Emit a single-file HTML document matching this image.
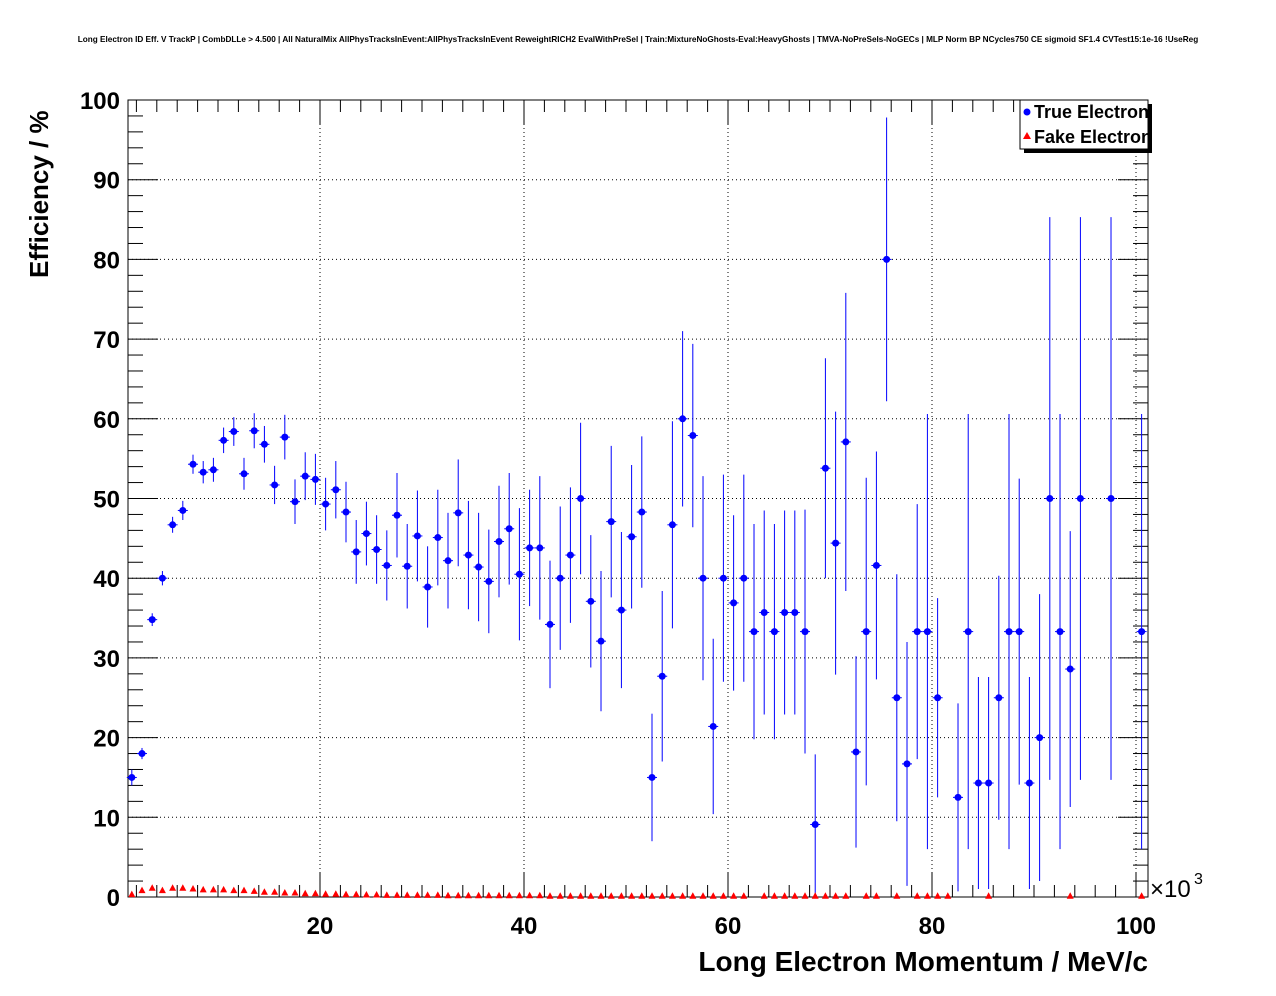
<!DOCTYPE html>
<html><head><meta charset="utf-8"><style>
html,body{margin:0;padding:0;background:#fff;}
svg{display:block;font-family:"Liberation Sans",sans-serif;}
</style></head><body>
<svg id="s" width="1276" height="996" viewBox="0 0 1276 996" xmlns="http://www.w3.org/2000/svg">
<rect width="1276" height="996" fill="#fff"/>
<text x="638" y="42" font-size="8.2" font-weight="bold" text-anchor="middle">Long Electron ID Eff. V TrackP | CombDLLe &gt; 4.500 | All NaturalMix AllPhysTracksInEvent:AllPhysTracksInEvent ReweightRICH2 EvalWithPreSel | Train:MixtureNoGhosts-Eval:HeavyGhosts | TMVA-NoPreSels-NoGECs | MLP Norm BP NCycles750 CE sigmoid SF1.4 CVTest15:1e-16 !UseReg</text>
<g id="g"></g>
<text x="1148" y="971" font-size="28" font-weight="bold" text-anchor="end">Long Electron Momentum / MeV/c</text>
<text transform="translate(48,278) rotate(-90)" font-size="26" font-weight="bold">Efficiency / %</text>
<text x="1150" y="897" font-size="24" >×10</text><text x="1194" y="884" font-size="16">3</text>
<rect x="1024" y="104" width="128" height="49" fill="#000"/>
<rect x="1020" y="100" width="128" height="49" fill="#fff" stroke="#000" stroke-width="1"/>
<circle cx="1027" cy="112" r="3.5" fill="#00f"/>
<text x="1034" y="118" font-size="18" font-weight="bold">True Electron</text>
<polygon points="1027,132 1031,139 1023,139" fill="#f00"/>
<text x="1034" y="143" font-size="18" font-weight="bold">Fake Electron</text>
</svg>
<script>
const g=document.getElementById('g');let h='';
const X0=128,X1=1148,Y0=897,Y1=100;
const xp=v=>116+10.2*v, yp=v=>897-7.97*v;
for(let v=20;v<=100;v+=20){h+=`<line x1="${xp(v)}" y1="${Y1}" x2="${xp(v)}" y2="${Y0}" stroke="#000" stroke-width="1" stroke-dasharray="1,3"/>`;}
for(let v=10;v<100;v+=10){h+=`<line x1="${X0}" y1="${yp(v)}" x2="${X1}" y2="${yp(v)}" stroke="#000" stroke-width="1" stroke-dasharray="1,3"/>`;}
h+=`<rect x="${X0}" y="${Y1}" width="${X1-X0}" height="${Y0-Y1}" fill="none" stroke="#000" stroke-width="1"/>`;
for(let v=2;v<=100;v+=2){const x=xp(v);const L=v%20==0?24:12;h+=`<line x1="${x}" y1="${Y0}" x2="${x}" y2="${Y0-L}" stroke="#000"/><line x1="${x}" y1="${Y1}" x2="${x}" y2="${Y1+L}" stroke="#000"/>`;if(v%20==0)h+=`<text x="${x}" y="934" font-size="24" font-weight="bold" text-anchor="middle">${v}</text>`;}
for(let v=0;v<=100;v+=2){const y=yp(v);const L=v%10==0?30:15;h+=`<line x1="${X0}" y1="${y}" x2="${X0+L}" y2="${y}" stroke="#000"/><line x1="${X1}" y1="${y}" x2="${X1-L}" y2="${y}" stroke="#000"/>`;if(v%10==0)h+=`<text x="120" y="${y+9}" font-size="24" font-weight="bold" text-anchor="end">${v}</text>`;}
const vals=[15,18,34.8,40,46.7,48.5,54.3,53.3,53.6,57.3,58.4,53.1,58.5,56.8,51.7,57.7,49.6,52.8,52.4,49.3,51.1,48.3,43.3,45.6,43.6,41.6,47.9,41.5,45.3,38.9,45.1,42.2,48.2,42.9,41.4,39.6,44.6,46.2,40.5,43.8,43.8,34.2,40,42.9,50,37.1,32.1,47.1,36,45.2,48.3,15,27.7,46.7,60,57.9,40,21.4,40,36.9,40,33.3,35.7,33.3,35.7,35.7,33.3,9.1,53.8,44.4,57.1,18.2,33.3,41.6,80,25,16.7,33.3,33.3,25,null,12.5,33.3,14.3,14.3,25,33.3,33.3,14.3,20,50,33.3,28.6,50,null,null,50,null,null,33.3];
const errs=[1,.7,.8,.9,1,1.2,1.2,1.4,1.5,1.6,1.8,2,2.2,2.3,2.4,2.8,2.8,3,3.2,3.3,3.6,3.8,4,4,4.3,4.4,5.3,5.3,5.7,5.1,6,6,6.7,6.8,6.8,6.5,7,7,8.3,7.3,9,8,9,8.5,9.5,8.3,8.8,9.5,9.8,9,9.5,8,10.7,13,11,11.5,12.8,11,13,11,13,13.5,12.8,13.5,12.8,12.8,15.3,8.8,13.8,16.5,18.7,12,19.3,14.3,17.8,15.5,15.3,16,27.3,12.5,0,11.8,27.3,13.3,13.3,15.3,27.3,19.2,13.3,18,35.3,27.3,17.3,35.3,0,0,35.3,0,0,27.3];
vals.forEach((v,i)=>{if(v==null)return;const x=xp(i+1.55),e=errs[i];
h+=`<line x1="${x}" y1="${yp(Math.min(100,v+e))}" x2="${x}" y2="${yp(Math.max(0,v-e))}" stroke="#00f" stroke-width="1"/><line x1="${x-5}" y1="${yp(v)}" x2="${x+5}" y2="${yp(v)}" stroke="#00f"/><circle cx="${x}" cy="${yp(v)}" r="3.5" fill="#00f"/>`;});
const fk=[.3,.8,1.1,.8,1.1,1.1,1,.9,.9,.9,.8,.8,.7,.6,.6,.5,.5,.4,.4,.35,.35,.3,.3,.25,.25,.2,.2,.2,.2,.2,.2,.15,.15,.15,.15,.15,.15,.15,.15,.15,.15,.1,.1,.1,.1,.1,.1,.1,.1,.1,.1,.1,.1,.1,.1,.1,.1,.1,.1,.1,.1,null,.1,.1,.1,.1,.1,.1,.1,.1,.1,null,.1,.1,null,.1,null,.1,.1,.1,.1,null,null,null,.1,null,null,null,null,null,null,null,.1,null,null,null,null,null,null,.1];
fk.forEach((v,i)=>{if(v==null)return;const x=xp(i+1.55),y=yp(v);h+=`<polygon points="${x},${y-4} ${x+3.5},${y+2.5} ${x-3.5},${y+2.5}" fill="#f00"/>`;});
g.innerHTML=h;
</script>
</body></html>
